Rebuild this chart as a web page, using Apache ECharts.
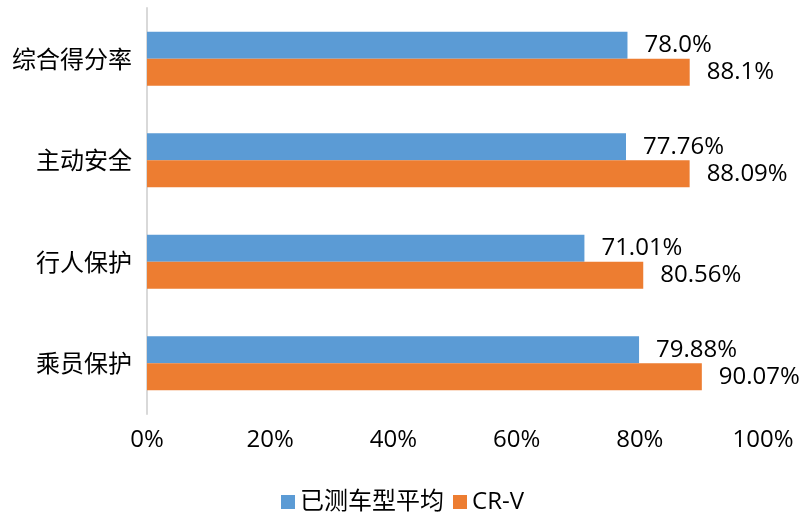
<!DOCTYPE html>
<html>
<head>
<meta charset="utf-8">
<script src="https://cdn.jsdelivr.net/npm/echarts@6/dist/echarts.min.js"></script>
<style>
  html, body { margin: 0; padding: 0; background: #fff; }
  #chart { width: 805px; height: 515px; }
</style>
</head>
<body>
<div id="chart"></div>
<script>
// 分类（从上到下）
const categories = ["综合得分率", "主动安全", "行人保护", "乘员保护"];
const seriesNames = ["已测车型平均", "CR-V"];
// 数值 (%)
const avgValues = [78.0, 77.76, 71.01, 79.88];
const crvValues = [88.1, 88.09, 80.56, 90.07];
// 标签文字，保留原图小数位
const avgLabels = ["78.0%", "77.76%", "71.01%", "79.88%"];
const crvLabels = ["88.1%", "88.09%", "80.56%", "90.07%"];
const xTicks = [0, 20, 40, 60, 80, 100];

const font = "'Open Sans', 'Noto Sans CJK SC', sans-serif";
const cjkFont = "'Noto Sans CJK SC', sans-serif";

const chart = echarts.init(document.getElementById("chart"));

function barLabel(labels) {
  return {
    show: true,
    position: "right",
    distance: 17,
    fontSize: 24,
    fontFamily: font,
    color: "#000",
    formatter: p => labels[p.dataIndex]
  };
}

chart.setOption({
  animation: false,
  textStyle: { fontFamily: font },
  legend: {
    data: seriesNames,
    bottom: -4,
    left: "center",
    itemWidth: 14,
    itemHeight: 14,
    itemGap: 9,
    icon: "rect",
    textStyle: { fontSize: 24, color: "#000", fontFamily: font }
  },
  grid: {
    left: 147,
    right: 42,
    top: 8,
    bottom: 101
  },
  xAxis: {
    type: "value",
    min: xTicks[0],
    max: xTicks[xTicks.length - 1],
    interval: 20,
    axisLine: { show: false },
    axisTick: { show: false },
    splitLine: { show: false },
    axisLabel: {
      fontSize: 24,
      color: "#000",
      margin: 14,
      fontFamily: font,
      formatter: v => v + "%"
    }
  },
  yAxis: {
    type: "category",
    inverse: true,
    data: categories,
    axisLine: { show: true, lineStyle: { color: "#d9d9d9", width: 2 } },
    axisTick: { show: false },
    axisLabel: {
      fontSize: 24,
      color: "#000",
      margin: 15,
      fontFamily: cjkFont
    }
  },
  series: [
    {
      name: seriesNames[0],
      type: "bar",
      data: avgValues,
      barWidth: 27,
      barGap: "0%",
      itemStyle: { color: "#5b9bd5" },
      label: barLabel(avgLabels)
    },
    {
      name: seriesNames[1],
      type: "bar",
      data: crvValues,
      barWidth: 27,
      barGap: "0%",
      itemStyle: { color: "#ed7d31" },
      label: barLabel(crvLabels)
    }
  ]
});
</script>
</body>
</html>
